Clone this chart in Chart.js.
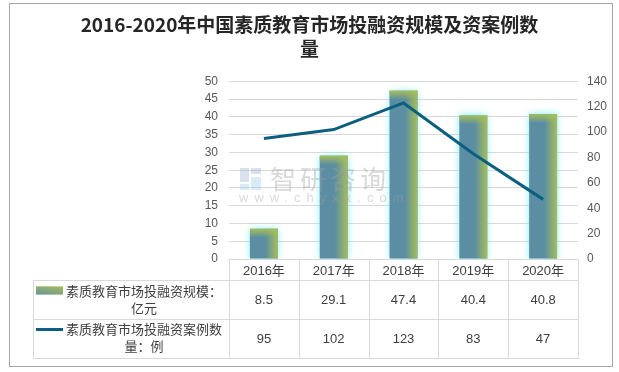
<!DOCTYPE html>
<html>
<head>
<meta charset="utf-8">
<script src="https://cdn.jsdelivr.net/npm/chart.js@4.4.1/dist/chart.umd.min.js"></script>
<style>
  html, body { margin: 0; padding: 0; background: #fff; }
  #wrap { width: 619px; height: 372px; }
</style>
</head>
<body>
<div id="wrap"><canvas id="chart" width="619" height="372"></canvas></div>
<script>
const years = ['2016年', '2017年', '2018年', '2019年', '2020年'];
const scaleValues = [8.5, 29.1, 47.4, 40.4, 40.8]; // 亿元
const caseCounts = [95, 102, 123, 83, 47]; // 例
const scaleLabel = ['素质教育市场投融资规模：', '亿元'];
const caseLabel = ['素质教育市场投融资案例数', '量：例'];
const titleLines = ['2016-2020年中国素质教育市场投融资规模及资案例数', '量'];

const FONT = '"Liberation Sans", "Noto Sans CJK SC", sans-serif';
const CJK = '"Noto Sans CJK SC", sans-serif';
const BLUE = '#5b8ea3';
const GREEN = 'rgba(166,190,88,';
const LINE = '#0d5f80';
const GRID = '#d9d9d9';

// white background, outer frame and watermark
const framePlugin = {
  id: 'frame',
  beforeDraw(chart) {
    const ctx = chart.ctx;
    ctx.save();
    ctx.fillStyle = '#fff';
    ctx.fillRect(0, 0, chart.width, chart.height);
    ctx.strokeStyle = '#a6a6a6';
    ctx.lineWidth = 1;
    ctx.strokeRect(9.5, 3.5, 603, 363);
    ctx.restore();
  },
};

// glow and bevel on the bars, watermark on top of them
const barStyle = {
  id: 'barStyle',
  beforeDatasetDraw(chart, args) {
    if (args.meta.type !== 'bar') return;
    const ctx = chart.ctx;
    ctx.save();
    ctx.shadowColor = 'rgba(110,235,250,0.95)';
    ctx.shadowBlur = 7;
  },
  afterDatasetDraw(chart, args) {
    if (args.meta.type !== 'bar') return;
    const ctx = chart.ctx;
    ctx.restore();
    ctx.save();
    args.meta.data.forEach((bar) => {
      const left = bar.x - bar.width / 2;
      const right = bar.x + bar.width / 2;
      const top = bar.y;
      const h = bar.base - bar.y;
      let g = ctx.createLinearGradient(left + bar.width * 0.55, 0, right, 0);
      g.addColorStop(0, GREEN + '0)');
      g.addColorStop(1, GREEN + '1)');
      ctx.fillStyle = g;
      ctx.fillRect(left, top, bar.width, h);
      g = ctx.createLinearGradient(0, top, 0, top + 9);
      g.addColorStop(0, GREEN + '1)');
      g.addColorStop(1, GREEN + '0)');
      ctx.fillStyle = g;
      ctx.fillRect(left, top, bar.width, Math.min(9, h));
    });

    // watermark
    ctx.fillStyle = 'rgba(160,160,160,0.4)';
    ctx.font = '26px ' + CJK;
    ctx.textBaseline = 'middle';
    ctx.letterSpacing = '4px';
    ctx.fillText('智研咨询', 270, 179);
    ctx.font = '13px ' + FONT;
    ctx.letterSpacing = '6px';
    ctx.fillText('www.chyxx.com', 239, 198);
    ctx.fillStyle = 'rgba(150,170,205,0.35)';
    ctx.fillRect(240, 168, 9, 14);
    ctx.fillRect(251, 168, 10, 6);
    ctx.fillStyle = 'rgba(140,200,230,0.35)';
    ctx.fillRect(251, 177, 10, 13);
    ctx.fillRect(240, 184, 9, 6);
    ctx.restore();
  },
};

// data table under the plot
const tablePlugin = {
  id: 'dataTable',
  afterDraw(chart) {
    const ctx = chart.ctx;
    const area = chart.chartArea;
    const x = chart.scales.x;
    const colW = (area.right - area.left) / years.length;
    const tLeft = 33.5;
    const y0 = Math.round(area.bottom) + 0.5;
    const y1 = y0 + 21;
    const y2 = y1 + 39;
    const y3 = y2 + 39;
    const colL = Math.round(area.left) + 0.5;
    const colR = Math.round(area.right) + 0.5;

    ctx.save();
    ctx.strokeStyle = GRID;
    ctx.lineWidth = 1;
    ctx.beginPath();
    ctx.moveTo(colL, y0); ctx.lineTo(colR, y0);
    [y1, y2, y3].forEach((y) => { ctx.moveTo(tLeft, y); ctx.lineTo(colR, y); });
    ctx.moveTo(tLeft, y1); ctx.lineTo(tLeft, y3);
    for (let i = 0; i <= years.length; i++) {
      const cx = Math.round(area.left + i * colW) + 0.5;
      ctx.moveTo(cx, y0); ctx.lineTo(cx, y3);
    }
    ctx.stroke();

    ctx.fillStyle = '#404040';
    ctx.textAlign = 'center';
    ctx.textBaseline = 'middle';
    ctx.font = '13px ' + FONT;
    years.forEach((yr, i) => {
      const cx = x.getPixelForValue(i);
      ctx.fillText(yr, cx, (y0 + y1) / 2 + 1);
      ctx.fillText(String(scaleValues[i]), cx, (y1 + y2) / 2);
      ctx.fillText(String(caseCounts[i]), cx, (y2 + y3) / 2);
    });

    // legend cells
    ctx.font = '13px ' + CJK;
    ctx.fillText(scaleLabel[0], 144, y1 + 11);
    ctx.fillText(scaleLabel[1], 144, y1 + 28);
    ctx.fillText(caseLabel[0], 144, y2 + 10);
    ctx.fillText(caseLabel[1], 144, y2 + 27);

    let g = ctx.createLinearGradient(36, 0, 63, 0);
    g.addColorStop(0, '#6e9a8e');
    g.addColorStop(1, '#a9c257');
    ctx.fillStyle = g;
    ctx.fillRect(36, y1 + 6, 27, 8);
    g = ctx.createLinearGradient(0, y1 + 6, 0, y1 + 14);
    g.addColorStop(0, 'rgba(166,190,88,0.6)');
    g.addColorStop(1, 'rgba(91,142,163,0.5)');
    ctx.fillStyle = g;
    ctx.fillRect(36, y1 + 6, 27, 8);

    ctx.strokeStyle = LINE;
    ctx.lineWidth = 3;
    ctx.beginPath();
    ctx.moveTo(36, y2 + 10);
    ctx.lineTo(63, y2 + 10);
    ctx.stroke();
    ctx.restore();
  },
};

new Chart(document.getElementById('chart'), {
  data: {
    labels: years,
    datasets: [
      {
        type: 'line',
        label: '素质教育市场投融资案例数量：例',
        data: caseCounts,
        yAxisID: 'y1',
        borderColor: LINE,
        borderWidth: 3,
        pointRadius: 0,
        tension: 0,
        order: 0,
      },
      {
        type: 'bar',
        label: '素质教育市场投融资规模：亿元',
        data: scaleValues,
        yAxisID: 'y',
        backgroundColor: BLUE,
        barPercentage: 0.4,
        categoryPercentage: 1,
        order: 1,
      },
    ],
  },
  options: {
    responsive: false,
    animation: false,
    layout: { padding: { left: 0, right: 0, top: 0, bottom: 0 } },
    plugins: {
      legend: { display: false },
      tooltip: { enabled: false },
      title: {
        display: true,
        text: titleLines,
        color: '#262626',
        font: { family: CJK, size: 19, weight: 'bold', lineHeight: 1.3 },
        padding: { top: 12, bottom: 20 },
      },
    },
    scales: {
      x: {
        offset: true,
        grid: { display: false },
        border: { display: false },
        ticks: { display: false },
        afterFit: (s) => { s.height = 113; },
      },
      y: {
        position: 'left',
        min: 0,
        max: 50,
        ticks: { stepSize: 5, padding: 11, color: '#595959', font: { family: FONT, size: 12 } },
        grid: { color: GRID, drawTicks: false },
        border: { display: false },
        afterFit: (s) => { s.width = 229; },
      },
      y1: {
        position: 'right',
        min: 0,
        max: 140,
        ticks: { stepSize: 20, padding: 9, color: '#595959', font: { family: FONT, size: 12 } },
        grid: { drawOnChartArea: false, drawTicks: false },
        border: { display: false },
        afterFit: (s) => { s.width = 41; },
      },
    },
  },
  plugins: [framePlugin, barStyle, tablePlugin],
});
</script>
</body>
</html>
